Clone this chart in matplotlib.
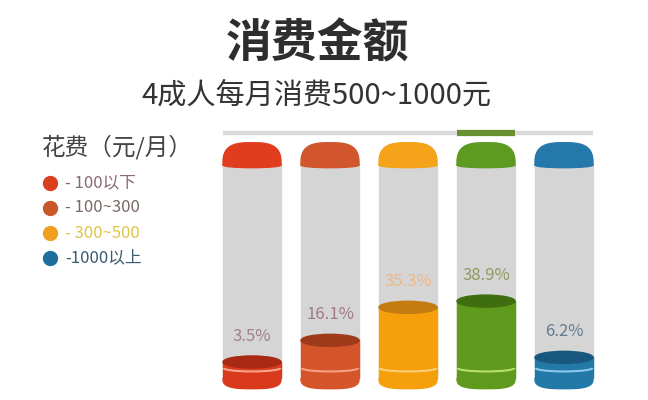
import numpy as np
import matplotlib as mpl
mpl.use('Agg')
import matplotlib.pyplot as plt
from matplotlib.patches import Rectangle, Ellipse, Arc, Polygon

plt.rcParams['font.family'] = ['Noto Sans CJK SC', 'DejaVu Sans']

# data
groups = ['-100以下', '-100~300', '-300~500', '500~1000', '-1000以上']
shares = [3.5, 16.1, 35.3, 38.9, 6.2]
legend_labels = ['- 100以下', '- 100~300', '- 300~500', '-1000以上']

# styles
fill_colors = ['#d93a1c', '#d4552a', '#f5a00a', '#5f9a1c', '#2279a8']
top_colors = ['#a82a14', '#9e3a1a', '#c47c10', '#3f6e10', '#18587e']
line_colors = ['#f6a48c', '#f5a080', '#fbd07a', '#b8e070', '#8cc8ec']
cap_colors = ['#e03c1e', '#d2562c', '#f5a318', '#5c9a22', '#2478aa']
label_colors = ['#a08088', '#a07a80', '#ecb98a', '#8c9a60', '#607c94']
legend_colors = ['#d9401e', '#c8582a', '#f0a020', '#1e6e9e']
legend_text_colors = ['#8a6a6e', '#7a6a66', '#e2c44a', '#3a5a70']

W = 0.744          # tube width (category units)
TUBE_TOP = 118     # top of the grey tube
CAP_H = 13
BOT = -6
TOP_LINE = 136.6


def half_round(xc, yc, w, h, upper=True, n=3.0):
    t = np.linspace(0, np.pi, 80)
    x = xc + w / 2 * np.sign(np.cos(t)) * np.abs(np.cos(t)) ** (2 / n)
    y = h * np.abs(np.sin(t)) ** (2 / n)
    y = yc + (y if upper else -y)
    return np.column_stack([x, y])


fig = plt.figure(figsize=(6.48, 4), dpi=100)
ax = fig.add_axes([0, 0, 1, 1])
ax.set_xlim(-3.231, 5.077)
ax.set_ylim(-18.6, 214)
ax.axis('off')

x = np.arange(len(shares))
for i, v in enumerate(shares):
    # grey tube + coloured cap
    ax.add_patch(Rectangle((i - W / 2, BOT), W, TUBE_TOP - BOT, color='#d5d5d5', zorder=1))
    ax.add_patch(Polygon(half_round(i, TUBE_TOP, W, CAP_H), color=cap_colors[i], zorder=2))
    ax.add_patch(Ellipse((i, TUBE_TOP), W, 3, color=cap_colors[i], zorder=2))
    # liquid
    ax.add_patch(Rectangle((i - W / 2, BOT), W, v - BOT, color=fill_colors[i], zorder=2))
    ax.add_patch(Polygon(half_round(i, BOT, W, 6, upper=False), color=fill_colors[i], zorder=2))
    ax.add_patch(Ellipse((i, v), W, 7, color=top_colors[i], zorder=3))
    ax.add_patch(Arc((i, 0), W * 0.98, 4, theta1=180, theta2=360,
                     color=line_colors[i], lw=1.5, zorder=4))
    ax.text(i, v + 15, f'{v}%', ha='center', va='center', fontsize=12,
            color=label_colors[i], zorder=5)

# top rail, highlighted over the largest share
ax.plot([x[0] - W / 2, x[-1] + W / 2], [TOP_LINE, TOP_LINE], color='#d9d9d9',
        lw=3.2, solid_capstyle='butt', zorder=1)
k = int(np.argmax(shares))
ax.plot([k - W / 2, k + W / 2], [TOP_LINE + 0.3, TOP_LINE + 0.3], color='#6a9030',
        lw=4.5, solid_capstyle='butt', zorder=2)

# titles
fig.text(318 / 648, 1 - 44 / 400, '消费金额', ha='center', va='center',
         fontsize=33, fontweight='bold', color='#2e2e2e')
fig.text(316 / 648, 1 - 96 / 400, '4成人每月消费500~1000元', ha='center', va='center',
         fontsize=21, color='#333333')

# legend
fig.text(42 / 648, 1 - 147 / 400, '花费（元/月）', ha='left', va='center',
         fontsize=17, color='#444444')
for j, lab in enumerate(legend_labels):
    yy = 1 - (183 + 25 * j) / 400
    ax.plot([50 / 648], [yy], 'o', ms=10, color=legend_colors[j],
            transform=fig.transFigure, clip_on=False)
    fig.text(65 / 648, yy, lab, ha='left', va='center', fontsize=12,
             color=legend_text_colors[j])

fig.savefig('out.png', dpi=100, facecolor='white')
